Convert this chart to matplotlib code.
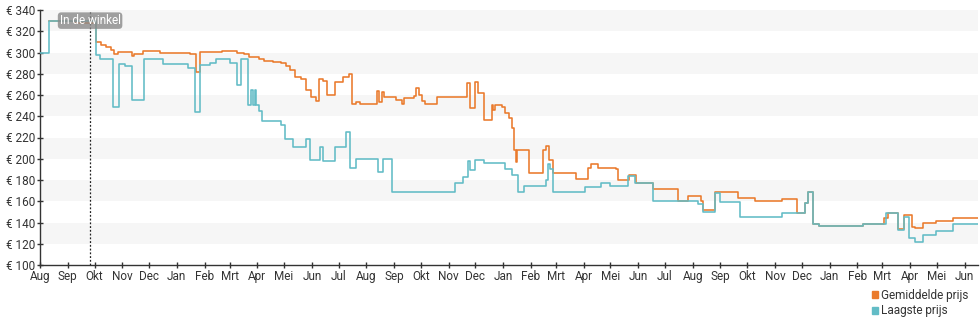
import pandas as pd
import matplotlib
matplotlib.use('Agg')
from matplotlib import pyplot as plt
from matplotlib.patches import Patch

plt.rcParams['font.family'] = ['Roboto', 'DejaVu Sans']

# gemiddelde prijs (stapsgewijs, waarde geldt vanaf de datum)
gem_datum = ['2016-08-11', '2016-09-09', '2016-10-03', '2016-10-08', '2016-10-14', '2016-10-19',
             '2016-10-23', '2016-10-27', '2016-11-12', '2016-11-14', '2016-11-24', '2016-12-02',
             '2016-12-13', '2017-01-16', '2017-01-23', '2017-01-27', '2017-02-21', '2017-03-09',
             '2017-03-17', '2017-03-23', '2017-03-31', '2017-04-03', '2017-04-08', '2017-04-19',
             '2017-04-27', '2017-05-03', '2017-05-08', '2017-05-13', '2017-05-20', '2017-05-25',
             '2017-05-31', '2017-06-06', '2017-06-09', '2017-06-14', '2017-06-18', '2017-06-27',
             '2017-07-06', '2017-07-13', '2017-07-16', '2017-07-20', '2017-07-25', '2017-08-13',
             '2017-08-15', '2017-08-18', '2017-08-21', '2017-09-03', '2017-09-10', '2017-09-12',
             '2017-09-23', '2017-09-26', '2017-09-29', '2017-10-02', '2017-10-06', '2017-10-19',
             '2017-11-21', '2017-11-25', '2017-11-30', '2017-12-04', '2017-12-10', '2017-12-19',
             '2017-12-21', '2017-12-23', '2017-12-31', '2018-01-03', '2018-01-07', '2018-01-11',
             '2018-01-13', '2018-01-15', '2018-01-16', '2018-01-30', '2018-02-14', '2018-02-18',
             '2018-02-21', '2018-02-26', '2018-03-23', '2018-04-06', '2018-04-09', '2018-04-17',
             '2018-05-07', '2018-05-09', '2018-05-22', '2018-05-29', '2018-06-18', '2018-07-16',
             '2018-07-27', '2018-08-10', '2018-08-13', '2018-08-26', '2018-09-21', '2018-10-10',
             '2018-11-09', '2018-11-26', '2018-12-05', '2018-12-08', '2018-12-13', '2018-12-20',
             '2019-02-07', '2019-03-03', '2019-03-07', '2019-03-19', '2019-03-25', '2019-04-03',
             '2019-04-07', '2019-04-15', '2019-04-30', '2019-05-19', '2019-06-16']
gem_prijs = [330, 328, 310, 307, 305.5, 302,
             299, 300.5, 296.5, 299, 301, 301.5,
             300, 299, 282, 300.5, 301.5, 300,
             298.5, 295.5, 296, 293.5, 292, 291.5,
             290, 287.5, 283.5, 277, 275.5, 265,
             258.5, 254.5, 275.5, 273, 260, 272.5,
             276.5, 279.5, 252, 253.5, 252, 264,
             253.5, 262.5, 258.5, 255.5, 252, 257,
             259, 266.5, 260, 254.5, 252, 258,
             271, 247.5, 272.5, 261.5, 236.5, 250.5,
             246, 250.5, 249, 243, 238, 228.5,
             208, 197, 208, 187, 208, 212,
             199, 186.5, 180.5, 191, 195, 191,
             190, 180, 184.5, 177, 172, 160,
             164.5, 160, 151.5, 169, 162.7, 160,
             162, 149, 158, 169, 139, 137,
             139, 144, 149, 134, 147, 136,
             134.5, 139.5, 141, 144, 144]

# laagste prijs
laag_datum = ['2016-08-01', '2016-08-11', '2016-10-03', '2016-10-07', '2016-10-22', '2016-10-28',
              '2016-11-04', '2016-11-12', '2016-11-25', '2016-12-17', '2017-01-14', '2017-01-21',
              '2017-01-27', '2017-02-07', '2017-02-14', '2017-03-02', '2017-03-09', '2017-03-14',
              '2017-03-22', '2017-03-25', '2017-03-27', '2017-03-29', '2017-03-31', '2017-04-03',
              '2017-04-06', '2017-04-27', '2017-05-02', '2017-05-11', '2017-05-25', '2017-05-30',
              '2017-06-10', '2017-06-14', '2017-06-27', '2017-07-09', '2017-07-14', '2017-07-20',
              '2017-08-14', '2017-08-20', '2017-08-30', '2017-11-08', '2017-11-17', '2017-11-23',
              '2017-11-25', '2017-11-30', '2017-12-10', '2018-01-03', '2018-01-11', '2018-01-18',
              '2018-01-24', '2018-02-18', '2018-02-20', '2018-02-22', '2018-02-26', '2018-04-03',
              '2018-04-20', '2018-05-01', '2018-05-21', '2018-05-28', '2018-06-18', '2018-08-07',
              '2018-08-13', '2018-08-26', '2018-09-01', '2018-09-23', '2018-11-09', '2018-12-05',
              '2018-12-08', '2018-12-13', '2018-12-20', '2019-02-07', '2019-03-05', '2019-03-19',
              '2019-03-25', '2019-03-31', '2019-04-07', '2019-04-15', '2019-04-30', '2019-05-19',
              '2019-06-16']
laag_prijs = [300, 330, 298, 294, 249, 289,
              287, 255, 294, 289, 285, 244,
              288, 290, 294, 290, 269, 294,
              251, 265, 251, 265, 251, 245,
              236, 232, 219, 211, 219, 199,
              211, 198, 211, 225, 191, 200,
              188, 200, 169, 177, 183, 198,
              189, 199, 196, 190, 185, 169,
              174, 180, 195, 190, 169, 173,
              177, 174.5, 184, 177, 160, 157,
              150, 168, 159, 145.5, 149, 158,
              169, 139, 137, 139, 149, 133,
              145, 125, 122, 128.5, 132, 139,
              139]

maanden = ['Jan', 'Feb', 'Mrt', 'Apr', 'Mei', 'Jun', 'Jul', 'Aug', 'Sep', 'Okt', 'Nov', 'Dec']
y_ticks = list(range(100, 341, 20))
winkel_datum = '2016-09-26'
begin, eind = '2016-08-01', '2019-06-16'

oranje = '#ea7a2c'
blauw = '#62bcc6'
tekst = '#333333'

fig = plt.figure(figsize=(9.8, 3.25), dpi=100)
ax = fig.add_axes([40 / 980, 60 / 325, 938 / 980, 255 / 325])

# grijze banden om de 20 euro
for lo in range(120, 340, 40):
    ax.axhspan(lo, lo + 20, color='#f6f6f6', lw=0, zorder=0)

ax.step(pd.to_datetime(gem_datum), gem_prijs, where='post', color=oranje, lw=1.15, zorder=2)
ax.step(pd.to_datetime(laag_datum), laag_prijs, where='post', color=blauw, lw=1.15, zorder=3)

ax.axvline(pd.Timestamp(winkel_datum), color='#222222', lw=0.9, ls=(0, (1.5, 1.5)), zorder=4)
ax.text(pd.Timestamp(winkel_datum), 330, 'In de winkel', ha='center', va='center',
        color='white', fontsize=8.5, zorder=5,
        bbox=dict(boxstyle='round,pad=0.15,rounding_size=0.3', fc='#8a8a8a', ec='none', alpha=0.8))

ax.set_xlim(pd.Timestamp(begin), pd.Timestamp(eind))
ax.set_ylim(100, 340)

maand_starts = pd.date_range(begin, eind, freq='MS')
ax.set_xticks(maand_starts)
ax.set_xticklabels([maanden[d.month - 1] for d in maand_starts])
ax.set_yticks(y_ticks)
ax.set_yticklabels([f'€ {v}' for v in y_ticks])

for s in ['top', 'right']:
    ax.spines[s].set_visible(False)
for s in ['left', 'bottom']:
    ax.spines[s].set_color(tekst)
    ax.spines[s].set_linewidth(1)
ax.tick_params(direction='inout', length=5, width=1, color=tekst, labelcolor=tekst, labelsize=8.5)
ax.tick_params(axis='x', pad=1)
ax.tick_params(axis='y', pad=1)

handles = [Patch(color=oranje, label='Gemiddelde prijs'), Patch(color=blauw, label='Laagste prijs')]
fig.legend(handles=handles, loc='upper left', bbox_to_anchor=(872 / 980, 1 - 289 / 325),
           frameon=False, fontsize=8.5, handlelength=0.55, handleheight=0.55,
           handletextpad=0.25, labelspacing=0.2, borderpad=0, borderaxespad=0,
           labelcolor=tekst)

fig.savefig('out.png', dpi=100)
